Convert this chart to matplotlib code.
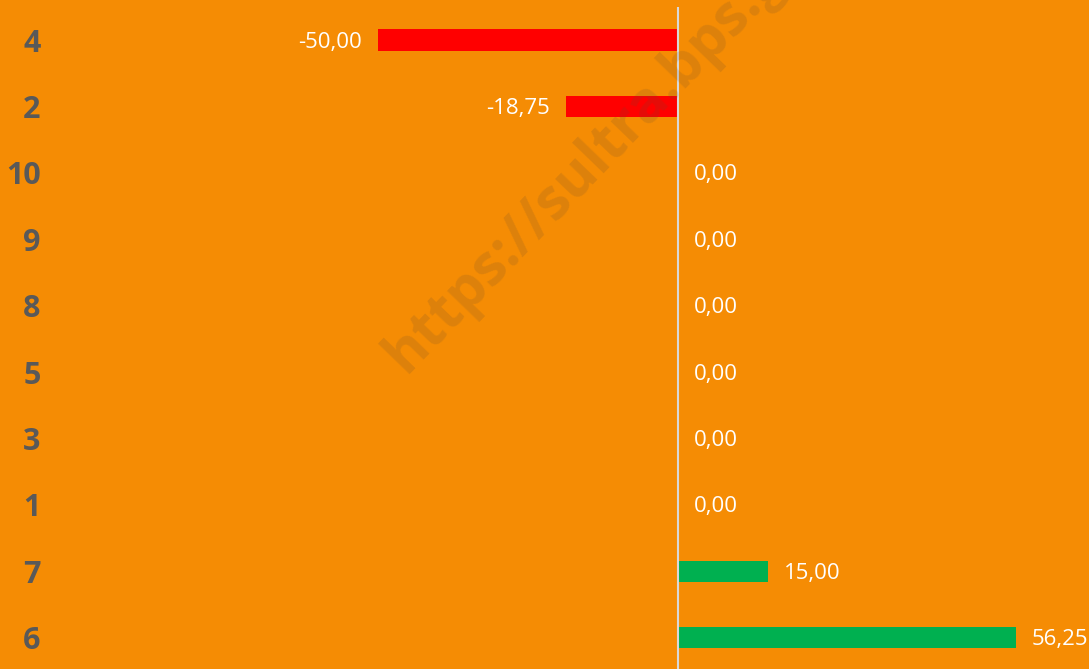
import matplotlib
matplotlib.use("Agg")
import matplotlib.pyplot as plt

categories = ['4', '2', '10', '9', '8', '5', '3', '1', '7', '6']
values = [-50.00, -18.75, 0.00, 0.00, 0.00, 0.00, 0.00, 0.00, 15.00, 56.25]

BG = '#F58C04'
NEG = '#FF0000'
POS = '#00B050'


def fmt(v):
    return f'{v:.2f}'.replace('.', ',')


def main():
    plt.rcParams['font.family'] = ['Open Sans', 'DejaVu Sans']
    fig = plt.figure(figsize=(10.89, 6.69), dpi=100, facecolor=BG)
    ax = fig.add_axes([60 / 1089, -0.0027, 1 - 60 / 1089, 664 / 669])
    ax.set_facecolor(BG)

    y = list(range(len(categories)))
    colors = [NEG if v < 0 else POS for v in values]
    ax.barh(y, values, height=0.32, color=colors, zorder=2)
    ax.axvline(0, color='#D9D9D9', lw=1.5, zorder=3)

    for yi, v in zip(y, values):
        if v < 0:
            ax.annotate(fmt(v), (v, yi), xytext=(-16, -2), textcoords='offset pixels',
                        ha='right', va='center', color='white', fontsize=16)
        else:
            ax.annotate(fmt(v), (v, yi), xytext=(16, -2), textcoords='offset pixels',
                        ha='left', va='center', color='white', fontsize=16)

    ax.set_xlim(-103, 68.5)
    ax.set_ylim(len(categories) - 0.5, -0.5)
    ax.set_yticks(y)
    ax.set_yticklabels(categories, fontsize=22, fontweight='bold', color='#595959')
    ax.tick_params(axis='y', length=0, pad=14)
    ax.set_xticks([])
    for s in ax.spines.values():
        s.set_visible(False)

    # watermark
    fig.text(0.372, 0.44, 'https://sultra.bps.go.id', rotation=46, rotation_mode='anchor',
             ha='left', va='baseline', fontsize=41, fontweight='bold',
             color=(0.4, 0.3, 0.2), alpha=0.17, zorder=10)

    fig.savefig('out.png', dpi=100, facecolor=BG)


if __name__ == '__main__':
    main()
